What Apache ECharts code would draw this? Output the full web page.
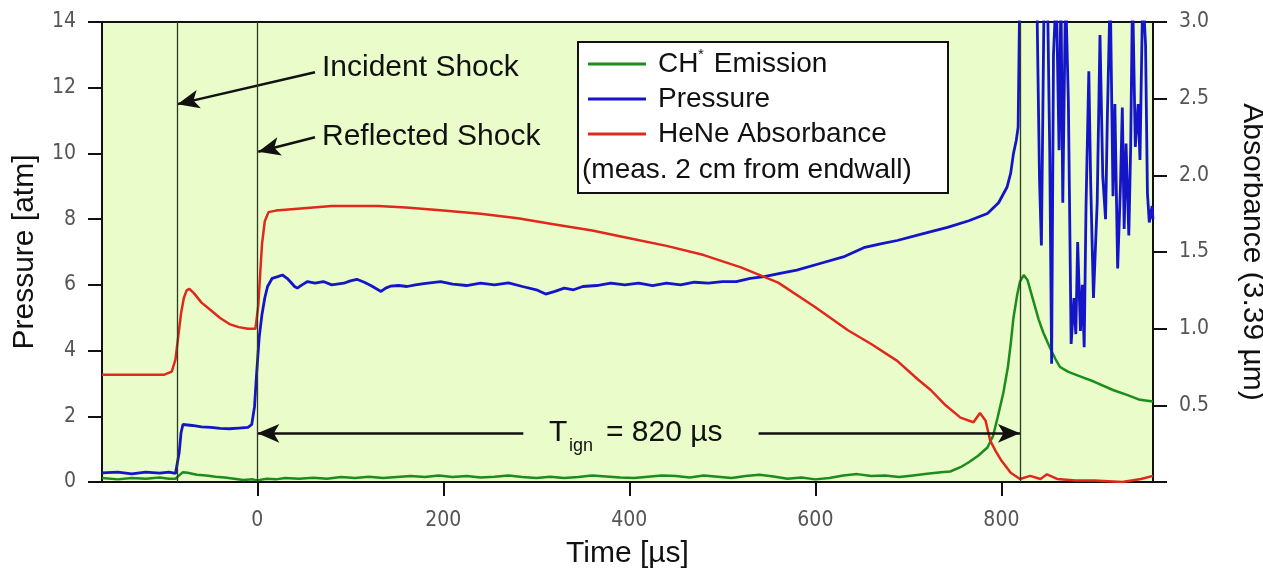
<!DOCTYPE html>
<html>
<head>
<meta charset="utf-8">
<title>Shock tube ignition</title>
<script src="https://cdn.jsdelivr.net/npm/echarts@6/dist/echarts.min.js"></script>
<style>
  html, body { margin: 0; padding: 0; background: #fff; }
  #chart { width: 1263px; height: 568px; }
</style>
</head>
<body>
<div id="chart"></div>
<script>
// values, time in µs
var xTicks = [0, 200, 400, 600, 800];
var shockLines = [-86, 0, 820]; // incident, reflected, ignition

var emission = [[-167,0.12],[-150,0.08],[-135,0.12],[-120,0.1],[-105,0.14],[-95,0.1],[-88,0.1],[-84,0.2],[-80,0.3],[-75,0.28],[-65,0.22],[-55,0.2],[-45,0.16],[-35,0.14],[-25,0.1],[-15,0.06],[-5,0.08],[0,0.05],[10,0.1],[20,0.08],[30,0.12],[45,0.1],[60,0.13],[75,0.1],[90,0.15],[105,0.12],[120,0.16],[135,0.12],[150,0.15],[165,0.18],[180,0.15],[195,0.2],[210,0.15],[225,0.18],[240,0.14],[255,0.16],[270,0.2],[285,0.15],[300,0.12],[315,0.16],[330,0.12],[345,0.15],[360,0.2],[375,0.17],[390,0.14],[405,0.12],[420,0.16],[435,0.2],[450,0.18],[465,0.14],[480,0.2],[495,0.16],[510,0.12],[525,0.18],[540,0.22],[555,0.17],[570,0.1],[585,0.14],[600,0.08],[615,0.12],[630,0.2],[645,0.24],[660,0.18],[675,0.2],[690,0.15],[705,0.2],[720,0.25],[735,0.3],[745,0.32],[756,0.45],[765,0.6],[775,0.8],[785,1.05],[791,1.4],[796,1.97],[802,2.7],[807,3.5],[810,4.2],[813,5.0],[817,5.7],[820,6.1],[824,6.3],[828,6.15],[834,5.55],[840,4.95],[845,4.55],[852,4.1],[858,3.75],[863,3.5],[872,3.35],[886,3.2],[900,3.05],[920,2.8],[935,2.65],[949,2.5],[963,2.45]];

var pressure = [[-167,0.28],[-150,0.3],[-135,0.25],[-120,0.3],[-105,0.27],[-95,0.3],[-88,0.26],[-86,0.28],[-84,0.9],[-82,1.5],[-80,1.75],[-78,1.8],[-70,1.72],[-60,1.68],[-50,1.66],[-40,1.63],[-30,1.62],[-20,1.64],[-10,1.66],[-6,1.75],[-3,2.3],[-1,3.2],[0,3.6],[2,4.4],[5,5.1],[8,5.6],[11,5.95],[16,6.2],[22,6.25],[27,6.3],[32,6.2],[36,6.08],[40,5.95],[43,5.9],[48,6.0],[54,6.1],[62,6.05],[71,6.1],[80,6.0],[93,6.05],[100,6.12],[107,6.17],[115,6.08],[122,5.98],[128,5.88],[133,5.8],[138,5.9],[143,5.96],[152,5.98],[161,5.95],[170,6.0],[179,6.04],[188,6.07],[197,6.1],[210,6.02],[225,5.98],[240,6.05],[255,6.0],[270,6.06],[285,5.95],[300,5.85],[310,5.72],[320,5.8],[330,5.9],[340,5.85],[350,5.95],[365,5.98],[380,6.05],[395,6.0],[410,6.05],[425,5.98],[440,6.05],[455,6.0],[470,6.08],[485,6.05],[500,6.1],[515,6.1],[530,6.2],[545,6.25],[562,6.35],[580,6.45],[605,6.65],[630,6.85],[652,7.13],[670,7.25],[688,7.35],[715,7.55],[742,7.75],[765,7.95],[785,8.17],[797,8.5],[806,8.97],[810,9.4],[813,10.0],[816,10.4],[818,10.8],[820,15.5],[822,14.6],[826,16],[831,15.5],[836,16],[838,15],[841,9.2],[843,7.2],[846,15],[849,16],[852,10],[854,3.6],[856,13],[859,15],[862,10.1],[864,15],[866,8.5],[869,15],[872,11.6],[875,4.2],[878,5.6],[880,4.5],[882,7.3],[885,4.6],[887,6.0],[889,4.1],[891,8.4],[894,12.5],[896,9.1],[899,5.6],[903,8.5],[906,13.6],[909,9.3],[912,8.0],[914,11.2],[917,15],[920,8.7],[922,11.5],[925,6.5],[928,9.0],[930,11.4],[932,7.7],[934,10.3],[937,7.5],[939,10.2],[941,15],[944,10.2],[947,11.5],[949,9.8],[952,15],[955,13.3],[957,8.8],[959,7.9],[962,8.4],[963,8.0]];

var absorbance = [[-167,0.7],[-130,0.7],[-100,0.7],[-92,0.72],[-88,0.8],[-85,0.95],[-82,1.1],[-79,1.2],[-76,1.25],[-73,1.26],[-68,1.23],[-60,1.17],[-50,1.12],[-40,1.07],[-30,1.03],[-20,1.01],[-10,1.0],[-2,1.0],[1,1.15],[3,1.35],[5,1.55],[8,1.7],[12,1.76],[20,1.77],[40,1.78],[60,1.79],[80,1.8],[100,1.8],[130,1.8],[160,1.79],[200,1.77],[240,1.75],[280,1.72],[320,1.68],[360,1.64],[400,1.59],[440,1.54],[480,1.48],[520,1.4],[560,1.3],[600,1.14],[635,0.99],[660,0.9],[688,0.79],[710,0.67],[724,0.6],[740,0.5],[756,0.42],[770,0.39],[777,0.45],[783,0.4],[788,0.27],[794,0.2],[800,0.14],[810,0.06],[820,0.02],[831,0.04],[842,0.02],[849,0.05],[860,0.02],[880,0.01],[900,0.01],[930,0.0],[950,0.02],[963,0.04]];

var seriesNames = ['CH* Emission', 'Pressure', 'HeNe Absorbance'];
var colors = ['#1c8c1c', '#1414c8', '#e0281c'];

var sans = '"Liberation Sans", Arial, sans-serif';
var narrow = '"Liberation Sans Narrow", "DejaVu Sans Condensed", "Liberation Sans", sans-serif';
var axisName = { fontFamily: sans, fontSize: 30, color: '#111' };
var tickLabel = { fontFamily: narrow, fontSize: 21, color: '#555' };

function arrow(from, to) {
  return [{ coord: from, symbol: 'none' }, { coord: to, symbol: 'arrow' }];
}

var ec = echarts.init(document.getElementById('chart'));
ec.setOption({
  animation: false,
  grid: { left: 102, right: 110, top: 22, bottom: 86, show: true, outerBoundsMode: 'none',
          backgroundColor: '#e9fcc9', borderColor: '#111', borderWidth: 2 },
  xAxis: {
    type: 'value', min: -167, max: 963,
    name: 'Time [µs]', nameLocation: 'middle', nameGap: 57, nameTextStyle: axisName,
    axisLine: { show: true, onZero: false, lineStyle: { color: '#111', width: 2 } },
    axisTick: { show: true, length: 14, customValues: xTicks, lineStyle: { color: '#111', width: 2 } },
    axisLabel: Object.assign({ margin: 28, customValues: xTicks }, tickLabel),
    splitLine: { show: false }
  },
  yAxis: [{
    type: 'value', min: 0, max: 14, interval: 2, position: 'left',
    name: 'Pressure [atm]', nameLocation: 'middle', nameGap: 62, nameTextStyle: axisName,
    axisLine: { show: true, onZero: false, lineStyle: { color: '#111', width: 2 } },
    axisTick: { show: true, length: 14, lineStyle: { color: '#111', width: 2 } },
    axisLabel: Object.assign({ margin: 26 }, tickLabel),
    splitLine: { show: false }
  }, {
    type: 'value', min: 0, max: 3, interval: 0.5, position: 'right',
    name: 'Absorbance (3.39 µm)', nameLocation: 'middle', nameGap: 84, nameRotate: -90,
    nameTextStyle: axisName,
    axisLine: { show: true, onZero: false, lineStyle: { color: '#111', width: 2 } },
    axisTick: { show: true, length: 14, lineStyle: { color: '#111', width: 2 } },
    axisLabel: Object.assign({ margin: 26, formatter: function (v) { return v === 0 ? '' : v.toFixed(1); } }, tickLabel),
    splitLine: { show: false }
  }],
  series: [{
    name: seriesNames[0], type: 'line', yAxisIndex: 0, data: emission,
    showSymbol: false, color: colors[0], lineStyle: { width: 2.5 }
  }, {
    name: seriesNames[1], type: 'line', yAxisIndex: 0, data: pressure,
    showSymbol: false, color: colors[1], lineStyle: { width: 2.8 },
    markLine: {
      silent: true, animation: false, symbolSize: [14, 22],
      label: { show: false },
      lineStyle: { color: '#111', width: 2.5, type: 'solid' },
      data: [
        arrow([62, 12.47], [-86, 11.5]),
        arrow([62, 10.49], [1, 10.05]),
        arrow([286, 1.48], [0, 1.48]),
        arrow([539, 1.48], [820, 1.48])
      ]
    }
  }, {
    name: seriesNames[2], type: 'line', yAxisIndex: 1, data: absorbance,
    showSymbol: false, color: colors[2], lineStyle: { width: 2.5 },
    markLine: {
      silent: true, animation: false, symbol: 'none',
      label: { show: false },
      lineStyle: { color: '#2e3a22', width: 1.3, type: 'solid' },
      data: shockLines.map(function (t) { return { xAxis: t }; })
    }
  }],
  graphic: [
    { type: 'text', x: 322, y: 68, style: { text: 'Incident Shock', font: '30px ' + sans, fill: '#111', verticalAlign: 'middle' } },
    { type: 'text', x: 322, y: 137, style: { text: 'Reflected Shock', font: '30px ' + sans, fill: '#111', verticalAlign: 'middle' } },
    { type: 'text', x: 549, y: 433, style: { text: 'T', font: '30px ' + sans, fill: '#111', verticalAlign: 'middle' } },
    { type: 'text', x: 569, y: 446, style: { text: 'ign', font: '18px ' + sans, fill: '#111', verticalAlign: 'middle' } },
    { type: 'text', x: 606, y: 433, style: { text: '= 820 µs', font: '30px ' + sans, fill: '#111', verticalAlign: 'middle' } },
    // legend box
    { type: 'rect', shape: { x: 578, y: 42, width: 370, height: 151 }, style: { fill: '#fff', stroke: '#111', lineWidth: 2 } },
    { type: 'line', shape: { x1: 588, y1: 64, x2: 646, y2: 64 }, style: { stroke: colors[0], lineWidth: 3 } },
    { type: 'line', shape: { x1: 588, y1: 99, x2: 646, y2: 99 }, style: { stroke: colors[1], lineWidth: 3 } },
    { type: 'line', shape: { x1: 588, y1: 134, x2: 646, y2: 134 }, style: { stroke: colors[2], lineWidth: 3 } },
    { type: 'text', x: 658, y: 64, style: { text: 'CH', font: '28px ' + sans, fill: '#111', verticalAlign: 'middle' } },
    { type: 'text', x: 698, y: 55, style: { text: '*', font: '15px ' + sans, fill: '#111', verticalAlign: 'middle' } },
    { type: 'text', x: 706, y: 64, style: { text: ' Emission', font: '28px ' + sans, fill: '#111', verticalAlign: 'middle' } },
    { type: 'text', x: 658, y: 99, style: { text: 'Pressure', font: '28px ' + sans, fill: '#111', verticalAlign: 'middle' } },
    { type: 'text', x: 658, y: 134, style: { text: 'HeNe Absorbance', font: '28px ' + sans, fill: '#111', verticalAlign: 'middle' } },
    { type: 'text', x: 582, y: 170, style: { text: '(meas. 2 cm from endwall)', font: '28px ' + sans, fill: '#111', verticalAlign: 'middle' } }
  ]
});
</script>
</body>
</html>
